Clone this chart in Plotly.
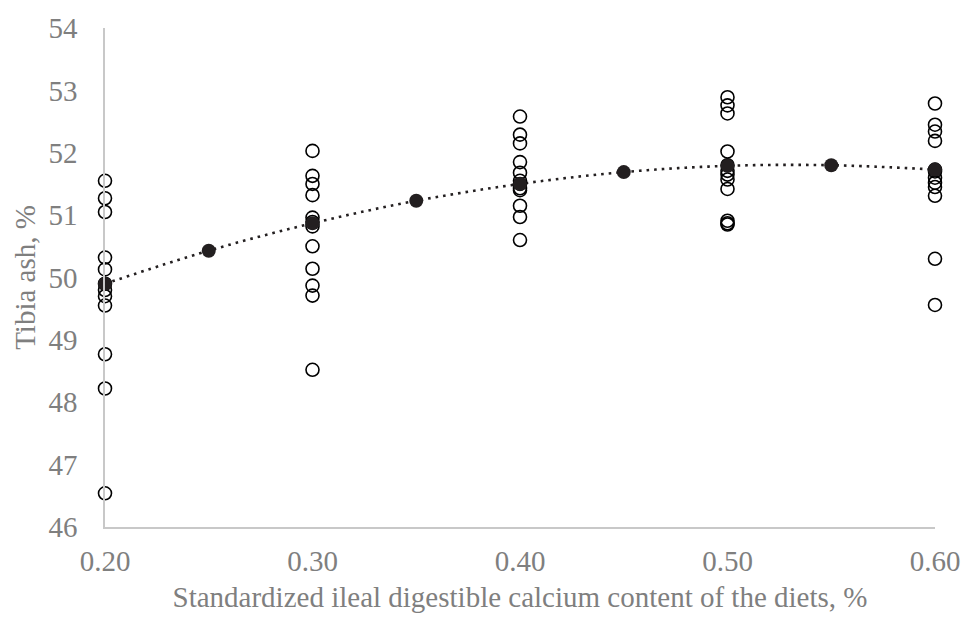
import plotly.graph_objects as go

# Observed tibia ash values (%) per SID Ca level
x_levels = [0.20, 0.30, 0.40, 0.50, 0.60]
obs_020 = [51.55, 51.27, 51.05, 50.32, 50.13, 49.90, 49.80, 49.70, 49.55, 48.77, 48.22, 46.54]
obs_030 = [52.03, 51.63, 51.50, 51.32, 50.96, 50.89, 50.82, 50.50, 50.14, 49.87, 49.71, 48.52]
obs_040 = [52.58, 52.29, 52.15, 51.85, 51.68, 51.55, 51.50, 51.43, 51.40, 51.15, 50.97, 50.60]
obs_050 = [52.89, 52.76, 52.63, 52.02, 51.80, 51.71, 51.65, 51.57, 51.42, 50.91, 50.87, 50.85]
obs_060 = [52.79, 52.45, 52.34, 52.19, 51.73, 51.70, 51.60, 51.52, 51.45, 51.31, 50.30, 49.56]

# Predicted (fitted) values
pred_x = [0.20, 0.25, 0.30, 0.35, 0.40, 0.45, 0.50, 0.55, 0.60]
pred_y = [49.90, 50.43, 50.87, 51.23, 51.50, 51.69, 51.79, 51.80, 51.73]

x_ticks = [0.20, 0.30, 0.40, 0.50, 0.60]
x_tick_text = ["0.20", "0.30", "0.40", "0.50", "0.60"]
y_ticks = [46, 47, 48, 49, 50, 51, 52, 53, 54]

obs_all = [obs_020, obs_030, obs_040, obs_050, obs_060]
xs, ys = [], []
for xv, vals in zip(x_levels, obs_all):
    xs += [xv] * len(vals)
    ys += vals

font_family = "Liberation Serif, Times New Roman, serif"
grey = "#7f7f7f"
fs = 29

fig = go.Figure()
fig.add_trace(go.Scatter(
    x=pred_x, y=pred_y, mode="lines",
    line=dict(color="#231f20", width=2.6, dash="2.6px,5px", shape="spline"),
    hoverinfo="skip", showlegend=False, cliponaxis=False,
))
fig.add_trace(go.Scatter(
    x=xs, y=ys, mode="markers",
    marker=dict(symbol="circle-open", size=13, color="#000000",
                line=dict(width=1.6, color="#000000")),
    showlegend=False, cliponaxis=False,
))
fig.add_trace(go.Scatter(
    x=pred_x, y=pred_y, mode="markers",
    marker=dict(symbol="circle", size=14, color="#231f20"),
    showlegend=False, cliponaxis=False,
))

fig.update_layout(
    width=972, height=620,
    margin=dict(l=105, r=27, t=25, b=91),
    paper_bgcolor="white", plot_bgcolor="white",
    font=dict(family=font_family, color=grey, size=fs),
)
fig.update_xaxes(
    range=[0.20, 0.60], tickvals=x_ticks, ticktext=x_tick_text,
    showgrid=False, zeroline=False, showline=True, linecolor="#c8c8c8", linewidth=1.5,
    ticks="", ticklabelstandoff=7,
    title=dict(text="Standardized ileal digestible calcium content of the diets, %",
               font=dict(size=fs, color=grey), standoff=11),
    tickfont=dict(size=fs, color=grey),
)
fig.update_yaxes(
    range=[46, 54], tickvals=y_ticks,
    showgrid=False, zeroline=False, showline=True, linecolor="#c8c8c8", linewidth=1.5,
    ticks="", ticklabelstandoff=20,
    title=dict(text="Tibia ash, %", font=dict(size=fs, color=grey), standoff=4),
    tickfont=dict(size=fs, color=grey),
)

fig.write_html(
    "out.html",
    config={"displayModeBar": False},
    post_script="document.body.style.margin='0';document.body.style.overflow='hidden';",
)
